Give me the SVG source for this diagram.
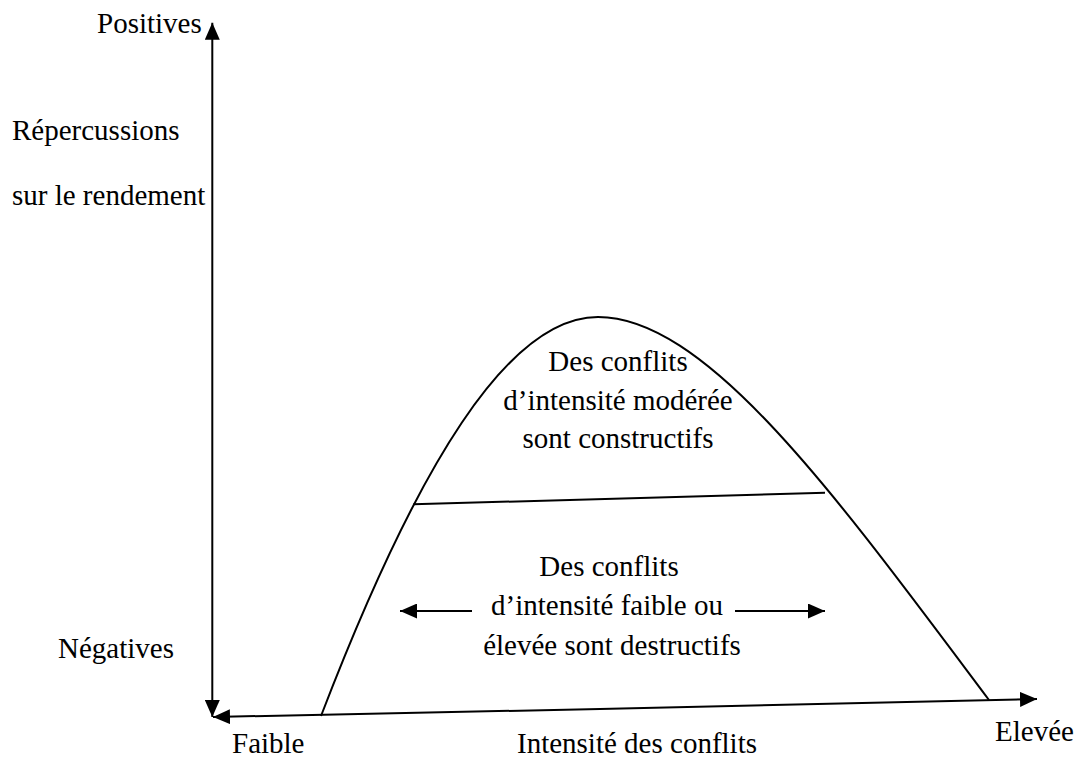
<svg xmlns="http://www.w3.org/2000/svg" width="1075" height="757" viewBox="0 0 1075 757">
<style>
text{font-family:"Liberation Serif","Times New Roman",serif;font-size:29px;fill:#000}
.ln{stroke:#000;stroke-width:2;fill:none}
</style>
<defs>
<marker id="ah" viewBox="0 0 10 10" refX="10" refY="5" markerWidth="17" markerHeight="15" markerUnits="userSpaceOnUse" orient="auto" preserveAspectRatio="none"><path d="M0,0 L10,5 L0,10 z" fill="#000"/></marker>
</defs>
<g id="connectors">
<line class="ln" x1="212.3" y1="400" x2="212.3" y2="22.7" marker-end="url(#ah)"/>
<line class="ln" x1="212.3" y1="400" x2="212.3" y2="717" marker-end="url(#ah)"/>
<line class="ln" x1="600" y1="709" x2="213" y2="717" marker-end="url(#ah)"/>
<line class="ln" x1="600" y1="709" x2="1037" y2="699" marker-end="url(#ah)"/>
<path class="ln" d="M321,716 C417,466 508,317 598,317 C708,317 839,500 989,700"/>
<line class="ln" x1="413.3" y1="504.3" x2="825" y2="492.7"/>
<line class="ln" x1="472" y1="611" x2="400" y2="611" marker-end="url(#ah)"/>
<line class="ln" x1="735" y1="611" x2="825" y2="611" marker-end="url(#ah)"/>
</g>
<g id="axis-labels">
<text x="97" y="33">Positives</text>
<text x="12" y="140">Répercussions</text>
<text x="12" y="205">sur le rendement</text>
<text x="58" y="658">Négatives</text>
<text x="232" y="753">Faible</text>
<text x="517" y="753">Intensité des conflits</text>
<text x="995" y="741">Elevée</text>
</g>
<g id="zone-constructive" text-anchor="middle">
<text x="618" y="371">Des conflits</text>
<text x="618" y="410">d’intensité modérée</text>
<text x="618" y="448">sont constructifs</text>
</g>
<g id="zone-destructive" text-anchor="middle">
<text x="609" y="576">Des conflits</text>
<text x="607" y="615">d’intensité faible ou</text>
<text x="612" y="655">élevée sont destructifs</text>
</g>
</svg>
